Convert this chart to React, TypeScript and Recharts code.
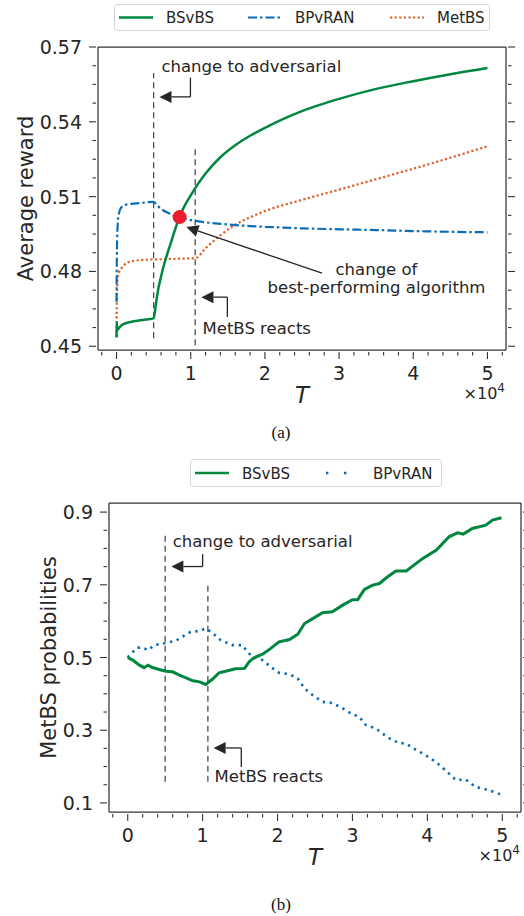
import React from "react";
import {
  Label,
  Legend,
  Line,
  LineChart,
  ReferenceDot,
  ReferenceLine,
  XAxis,
  YAxis,
} from "recharts";

const FONT = "'DejaVu Sans', Verdana, sans-serif";
const INK = "#262626";
const SPINE = "#333333";
const GREEN = "#00873f";
const BLUE = "#0b6db7";
const ORANGE = "#dc5f26";
const RED = "#ee1d2d";
const DASH_GRAY = "#4d4d4d";

// T is in units of 10^4 rounds
const tMajor = [0, 1, 2, 3, 4, 5];
const rewardMajor = [0.45, 0.48, 0.51, 0.54, 0.57];
const probMajor = [0.1, 0.3, 0.5, 0.7, 0.9];

// (a) average reward
const bsvbsT = [0, 0.002, 0.01, 0.03, 0.06, 0.1, 0.2, 0.3, 0.4, 0.5, 0.53, 0.56, 0.6, 0.65, 0.7, 0.75, 0.8, 0.85, 0.9, 1.0, 1.1, 1.2, 1.4, 1.6, 1.8, 2.0, 2.25, 2.5, 2.75, 3.0, 3.5, 4.0, 4.5, 5.0];
const bsvbsReward = [0.4535, 0.4596, 0.4566, 0.4572, 0.4582, 0.459, 0.4598, 0.4603, 0.4607, 0.4612, 0.4668, 0.4725, 0.478, 0.4838, 0.4885, 0.4932, 0.4978, 0.5018, 0.5053, 0.5105, 0.5152, 0.5193, 0.5258, 0.5306, 0.5344, 0.5376, 0.5412, 0.5443, 0.5469, 0.5492, 0.5532, 0.5563, 0.5591, 0.5616];

const bpvranT = [0, 0.003, 0.008, 0.015, 0.03, 0.06, 0.1, 0.2, 0.3, 0.4, 0.5, 0.55, 0.6, 0.7, 0.8, 0.9, 1.0, 1.2, 1.4, 1.6, 1.8, 2.0, 2.5, 3.0, 3.5, 4.0, 4.5, 5.0];
const bpvranReward = [0.4678, 0.482, 0.493, 0.4985, 0.503, 0.5055, 0.5065, 0.5071, 0.5074, 0.5077, 0.5079, 0.5064, 0.5051, 0.5034, 0.5022, 0.5013, 0.5006, 0.4997, 0.4991, 0.4986, 0.4982, 0.4979, 0.4973, 0.4969, 0.4966, 0.4962, 0.4959, 0.4957];

const metbsT = [0, 0.003, 0.008, 0.015, 0.03, 0.06, 0.1, 0.15, 0.25, 0.4, 0.6, 0.8, 1.06, 1.2, 1.4, 1.6, 1.8, 2.0, 2.5, 3.0, 3.5, 4.0, 4.5, 5.0];
const metbsReward = [0.4537, 0.466, 0.4735, 0.4775, 0.4795, 0.481, 0.4825, 0.4836, 0.4843, 0.4847, 0.4849, 0.4851, 0.4853, 0.4893, 0.4945, 0.4987, 0.5017, 0.5042, 0.5087, 0.5128, 0.517, 0.5212, 0.5256, 0.5302];

// point where BSvBS overtakes BPvRAN
const crossT = 0.85;
const crossReward = 0.5018;

// (b) MetBS selection probabilities
const bsvbsProbT = [0, 0.067, 0.156, 0.22, 0.27, 0.33, 0.42, 0.51, 0.6, 0.69, 0.78, 0.87, 0.96, 1.04, 1.13, 1.22, 1.36, 1.44, 1.56, 1.62, 1.69, 1.8, 1.91, 2.02, 2.16, 2.27, 2.36, 2.47, 2.6, 2.73, 2.87, 3.0, 3.07, 3.16, 3.27, 3.36, 3.47, 3.58, 3.72, 3.82, 3.94, 4.12, 4.29, 4.4, 4.48, 4.6, 4.78, 4.87, 4.99];
const bsvbsProb = [0.5, 0.493, 0.479, 0.472, 0.479, 0.4725, 0.467, 0.462, 0.4606, 0.4514, 0.444, 0.436, 0.433, 0.4258, 0.44, 0.458, 0.465, 0.469, 0.47, 0.488, 0.5, 0.509, 0.525, 0.543, 0.5495, 0.564, 0.5935, 0.607, 0.623, 0.6256, 0.644, 0.659, 0.659, 0.687, 0.699, 0.7035, 0.722, 0.738, 0.738, 0.754, 0.7727, 0.7955, 0.832, 0.843, 0.8396, 0.855, 0.864, 0.878, 0.8844];

const bpvranProbT = [0, 0.044, 0.133, 0.2, 0.27, 0.356, 0.51, 0.64, 0.76, 0.84, 0.96, 1.04, 1.13, 1.24, 1.4, 1.53, 1.62, 1.69, 1.8, 1.91, 2.02, 2.16, 2.27, 2.36, 2.47, 2.6, 2.73, 2.87, 3.0, 3.09, 3.18, 3.31, 3.4, 3.53, 3.62, 3.71, 3.84, 3.98, 4.11, 4.24, 4.38, 4.51, 4.64, 4.82, 4.98];
const bpvranProb = [0.5, 0.511, 0.527, 0.5275, 0.52, 0.534, 0.54, 0.5458, 0.561, 0.5706, 0.573, 0.58, 0.568, 0.5477, 0.534, 0.534, 0.511, 0.5, 0.4927, 0.474, 0.458, 0.454, 0.442, 0.4148, 0.3964, 0.378, 0.375, 0.36, 0.344, 0.337, 0.314, 0.305, 0.291, 0.273, 0.265, 0.2635, 0.247, 0.231, 0.213, 0.19, 0.163, 0.1645, 0.1444, 0.135, 0.1233];

const zip = (t: number[], v: number[]) => t.map((x, i) => ({ t: x, v: v[i] }));

const T_DOMAIN: [number, number] = [-0.25, 5.25];
const REWARD_DOMAIN: [number, number] = [0.4485, 0.57];
const PROB_DOMAIN: [number, number] = [0.075, 0.925];

// major ticks plus evenly spaced minor ticks inside the domain
function withMinor(majors: number[], parts: number, [lo, hi]: [number, number]) {
  const step = (majors[1] - majors[0]) / parts;
  const out: number[] = [];
  for (let k = -parts; k <= majors.length * parts; k++) {
    const v = +(majors[0] + k * step).toFixed(6);
    if (v >= lo - 1e-9 && v <= hi + 1e-9) out.push(v);
  }
  return out;
}

const tTicks = withMinor(tMajor, 5, T_DOMAIN);
const rewardTicks = withMinor(rewardMajor, 4, REWARD_DOMAIN);
const probTicks = withMinor(probMajor, 4, PROB_DOMAIN);

type Side = "bottom" | "top" | "left" | "right";

function tickRenderer(side: Side, majors: number[], fmt?: (v: number) => string) {
  return (props: any) => {
    const { x, y, payload } = props;
    const v = payload.value;
    const major = majors.some((m) => Math.abs(m - v) < 1e-6);
    const len = major ? 7 : 3.5;
    let x2 = x;
    let y2 = y;
    if (side === "bottom") y2 = y + len;
    if (side === "top") y2 = y - len;
    if (side === "left") x2 = x - len;
    if (side === "right") x2 = x + len;
    let label = null;
    if (major && fmt) {
      label =
        side === "bottom" ? (
          <text x={x} y={y + 28} textAnchor="middle" fontSize={19} fill={INK} fontFamily={FONT}>
            {fmt(v)}
          </text>
        ) : (
          <text x={x - 14} y={y + 7} textAnchor="end" fontSize={19} fill={INK} fontFamily={FONT}>
            {fmt(v)}
          </text>
        );
    }
    return (
      <g>
        <line x1={x} y1={y} x2={x2} y2={y2} stroke={SPINE} strokeWidth={1.1} />
        {label}
      </g>
    );
  };
}

// annotation arrow: straight line ending in a filled head at (x2, y2)
function ArrowShape(props: any) {
  const { x1, y1, x2, y2 } = props;
  const ang = Math.atan2(y2 - y1, x2 - x1);
  const len = 12;
  const half = 6;
  const bx = x2 - len * Math.cos(ang);
  const by = y2 - len * Math.sin(ang);
  const px = -Math.sin(ang) * half;
  const py = Math.cos(ang) * half;
  return (
    <g>
      <line x1={x1} y1={y1} x2={bx} y2={by} stroke={INK} strokeWidth={1.3} />
      <polygon points={`${x2},${y2} ${bx + px},${by + py} ${bx - px},${by - py}`} fill={INK} />
    </g>
  );
}

function note(text: string, anchor: "start" | "middle" = "start") {
  return (p: any) => (
    <text x={p.cx} y={p.cy} textAnchor={anchor} fontSize={16.5} fill={INK} fontFamily={FONT}>
      {text}
    </text>
  );
}

type LegendItem = { name: string; color: string; dash?: string; width: number; x: number };

function LegendBox({ items, width, height }: { items: LegendItem[]; width: number; height: number }) {
  const mid = height / 2;
  return (
    <svg width={width} height={height} style={{ display: "block" }}>
      <rect x={0.5} y={0.5} width={width - 1} height={height - 1} rx={3} fill="#fff" stroke="#d4d4d4" />
      {items.map((it) => (
        <g key={it.name}>
          <line
            x1={it.x}
            x2={it.x + 34}
            y1={mid}
            y2={mid}
            stroke={it.color}
            strokeWidth={it.width}
            strokeDasharray={it.dash}
          />
          <text x={it.x + 47} y={mid + 5.5} fontSize={15} fill={INK} fontFamily={FONT}>
            {it.name}
          </text>
        </g>
      ))}
    </svg>
  );
}

const rewardLegend: LegendItem[] = [
  { name: "BSvBS", color: GREEN, width: 2.5, x: 5 },
  { name: "BPvRAN", color: BLUE, width: 2.2, dash: "9 3 2.5 3", x: 134 },
  { name: "MetBS", color: ORANGE, width: 2.2, dash: "2.2 2.4", x: 276 },
];

const probLegend: LegendItem[] = [
  { name: "BSvBS", color: GREEN, width: 2.5, x: 5 },
  { name: "BPvRAN", color: BLUE, width: 2.6, dash: "2.4 15.6", x: 136 },
];

const axisTitle = (text: string, dy: number) => (p: any) => {
  const vb = p.viewBox;
  return (
    <text x={vb.x + vb.width / 2} y={vb.y + dy} textAnchor="middle" fontSize={23} fontStyle="italic" fill={INK} fontFamily={FONT}>
      {text}
    </text>
  );
};

const offsetText = (dx: number, dy: number) => (p: any) => {
  const vb = p.viewBox;
  return (
    <text x={vb.x + vb.width + dx} y={vb.y + dy} textAnchor="end" fontSize={16} fill={INK} fontFamily={FONT}>
      ×10<tspan dy={-7} fontSize={12}>4</tspan>
    </text>
  );
};

const yTitle = (text: string, dx: number) => (p: any) => {
  const vb = p.viewBox;
  const cx = vb.x + vb.width + dx;
  const cy = vb.y + vb.height / 2;
  return (
    <text
      x={cx}
      y={cy}
      transform={`rotate(-90 ${cx} ${cy})`}
      textAnchor="middle"
      dominantBaseline="central"
      fontSize={21}
      fill={INK}
      fontFamily={FONT}
    >
      {text}
    </text>
  );
};

function Frame({ yTicks, yMajor, yDomain, yFmt, yLabel, yLabelDx, rightWidth, leftWidth }: any) {
  return [
    <XAxis
      key="xb"
      type="number"
      dataKey="t"
      domain={T_DOMAIN}
      allowDataOverflow
      ticks={tTicks}
      interval={0}
      tickSize={0}
      tickLine={false}
      axisLine={{ stroke: SPINE, strokeWidth: 1.25 }}
      tick={tickRenderer("bottom", tMajor, (v) => String(Math.round(v)))}
      height={40}
    >
      <Label content={axisTitle("T", 53)} />
      <Label content={offsetText(-1, 49)} />
    </XAxis>,
    <XAxis
      key="xt"
      xAxisId="top"
      orientation="top"
      type="number"
      domain={T_DOMAIN}
      allowDataOverflow
      ticks={tTicks}
      interval={0}
      tickSize={0}
      tickLine={false}
      axisLine={{ stroke: SPINE, strokeWidth: 1.25 }}
      tick={tickRenderer("top", tMajor)}
      height={10}
    />,
    <YAxis
      key="yl"
      type="number"
      domain={yDomain}
      allowDataOverflow
      ticks={yTicks}
      interval={0}
      tickSize={0}
      tickLine={false}
      axisLine={{ stroke: SPINE, strokeWidth: 1.25 }}
      tick={tickRenderer("left", yMajor, yFmt)}
      width={leftWidth}
    >
      <Label content={yTitle(yLabel, yLabelDx)} />
    </YAxis>,
    <YAxis
      key="yr"
      yAxisId="right"
      orientation="right"
      type="number"
      domain={yDomain}
      allowDataOverflow
      ticks={yTicks}
      interval={0}
      tickSize={0}
      tickLine={false}
      axisLine={{ stroke: SPINE, strokeWidth: 1.25 }}
      tick={tickRenderer("right", yMajor)}
      width={rightWidth}
    />,
  ];
}

function RewardChart() {
  return (
    <LineChart width={524} height={445} margin={{ top: 37, right: 8, bottom: 55, left: 48 }}>
      {Frame({
        yTicks: rewardTicks,
        yMajor: rewardMajor,
        yDomain: REWARD_DOMAIN,
        yFmt: (v: number) => v.toFixed(2),
        yLabel: "Average reward",
        yLabelDx: -72,
        rightWidth: 10,
        leftWidth: 50,
      })}
      <Legend
        layout="horizontal"
        verticalAlign="middle"
        align="center"
        wrapperStyle={{ top: 4, left: 114, width: 376, height: 27 }}
        content={() => <LegendBox items={rewardLegend} width={376} height={27} />}
      />

      <ReferenceLine segment={[{ x: 0.5, y: 0.4532 }, { x: 0.5, y: 0.5596 }]} stroke={DASH_GRAY} strokeWidth={1.3} strokeDasharray="6 4" />
      <ReferenceLine segment={[{ x: 1.06, y: 0.4504 }, { x: 1.06, y: 0.5295 }]} stroke={DASH_GRAY} strokeWidth={1.3} strokeDasharray="6 4" />

      <Line data={zip(metbsT, metbsReward)} dataKey="v" type="monotoneX" stroke={ORANGE} strokeWidth={2.2} strokeDasharray="2.2 2.4" dot={false} activeDot={false} isAnimationActive={false} />
      <Line data={zip(bpvranT, bpvranReward)} dataKey="v" type="monotoneX" stroke={BLUE} strokeWidth={2.2} strokeDasharray="9 3 2.5 3" dot={false} activeDot={false} isAnimationActive={false} />
      <Line data={zip(bsvbsT, bsvbsReward)} dataKey="v" type="monotoneX" stroke={GREEN} strokeWidth={2.5} dot={false} activeDot={false} isAnimationActive={false} />

      <ReferenceDot x={crossT} y={crossReward} r={7} fill={RED} stroke="none" />

      <ReferenceDot x={0.606} y={0.5599} r={0} shape={note("change to adversarial")} />
      <ReferenceLine segment={[{ x: 0.996, y: 0.5577 }, { x: 0.996, y: 0.55 }]} stroke={INK} strokeWidth={1.3} />
      <ReferenceLine segment={[{ x: 0.996, y: 0.55 }, { x: 0.579, y: 0.55 }]} shape={ArrowShape} />

      <ReferenceDot x={1.159} y={0.4549} r={0} shape={note("MetBS reacts")} />
      <ReferenceLine segment={[{ x: 1.494, y: 0.4617 }, { x: 1.494, y: 0.4697 }]} stroke={INK} strokeWidth={1.3} />
      <ReferenceLine segment={[{ x: 1.494, y: 0.4697 }, { x: 1.144, y: 0.4697 }]} shape={ArrowShape} />

      <ReferenceDot x={3.504} y={0.4787} r={0} shape={note("change of", "middle")} />
      <ReferenceDot x={3.504} y={0.4715} r={0} shape={note("best-performing algorithm", "middle")} />
      <ReferenceLine segment={[{ x: 2.77, y: 0.4793 }, { x: 0.942, y: 0.4978 }]} shape={ArrowShape} />
    </LineChart>
  );
}

function ProbabilityChart() {
  return (
    <LineChart width={524} height={466} margin={{ top: 43, right: 0, bottom: 64, left: 49 }}>
      {Frame({
        yTicks: probTicks,
        yMajor: probMajor,
        yDomain: PROB_DOMAIN,
        yFmt: (v: number) => v.toFixed(1),
        yLabel: "MetBS probabilities",
        yLabelDx: -60,
        rightWidth: 3,
        leftWidth: 60,
      })}
      <Legend
        layout="horizontal"
        verticalAlign="middle"
        align="center"
        wrapperStyle={{ top: 9, left: 190, width: 252, height: 28 }}
        content={() => <LegendBox items={probLegend} width={252} height={28} />}
      />

      <ReferenceLine segment={[{ x: 0.5, y: 0.1584 }, { x: 0.5, y: 0.845 }]} stroke={DASH_GRAY} strokeWidth={1.3} strokeDasharray="6 4" />
      <ReferenceLine segment={[{ x: 1.07, y: 0.1584 }, { x: 1.07, y: 0.6993 }]} stroke={DASH_GRAY} strokeWidth={1.3} strokeDasharray="6 4" />

      <Line data={zip(bpvranProbT, bpvranProb)} dataKey="v" type="linear" stroke={BLUE} strokeWidth={2.6} strokeDasharray="2.4 4.6" dot={false} activeDot={false} isAnimationActive={false} />
      <Line data={zip(bsvbsProbT, bsvbsProb)} dataKey="v" type="linear" stroke={GREEN} strokeWidth={3} dot={false} activeDot={false} isAnimationActive={false} />

      <ReferenceDot x={0.6} y={0.803} r={0} shape={note("change to adversarial")} />
      <ReferenceLine segment={[{ x: 1.0, y: 0.7845 }, { x: 1.0, y: 0.7502 }]} stroke={INK} strokeWidth={1.3} />
      <ReferenceLine segment={[{ x: 1.0, y: 0.7502 }, { x: 0.583, y: 0.7502 }]} shape={ArrowShape} />

      <ReferenceDot x={1.16} y={0.1563} r={0} shape={note("MetBS reacts")} />
      <ReferenceLine segment={[{ x: 1.516, y: 0.199 }, { x: 1.516, y: 0.2512 }]} stroke={INK} strokeWidth={1.3} />
      <ReferenceLine segment={[{ x: 1.516, y: 0.2512 }, { x: 1.147, y: 0.2512 }]} shape={ArrowShape} />
    </LineChart>
  );
}

const caption: React.CSSProperties = {
  position: "absolute",
  left: 281,
  transform: "translateX(-50%)",
  fontFamily: "'Liberation Serif', 'Times New Roman', serif",
  fontSize: 17,
  lineHeight: "20px",
  color: "#111",
};

export default function App() {
  return (
    <div style={{ position: "absolute", left: 0, top: 0, width: 524, height: 916, background: "#fff", fontFamily: FONT }}>
      <div style={{ position: "absolute", left: 0, top: 0 }}>
        <RewardChart />
      </div>
      <div style={{ ...caption, top: 423 }}>(a)</div>
      <div style={{ position: "absolute", left: 0, top: 450 }}>
        <ProbabilityChart />
      </div>
      <div style={{ ...caption, top: 895 }}>(b)</div>
    </div>
  );
}
